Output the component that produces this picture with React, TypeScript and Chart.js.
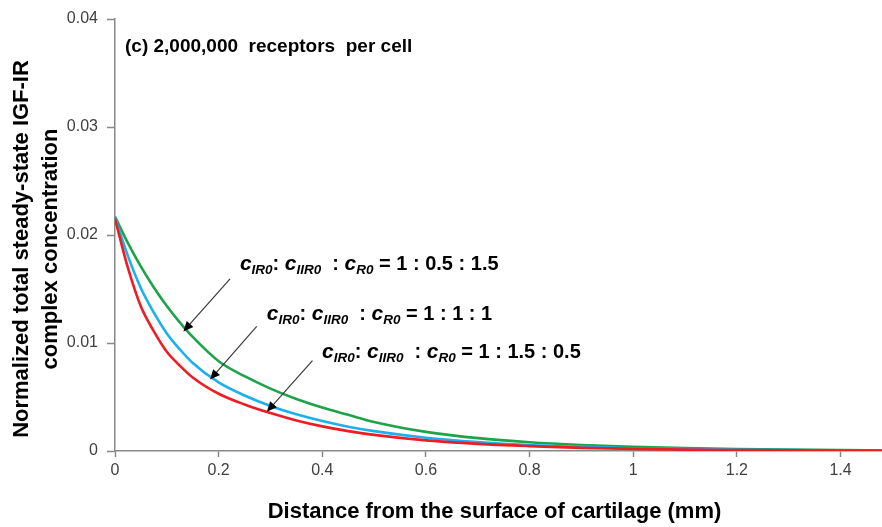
import React, { useEffect, useRef } from 'react';
import { Chart, registerables } from 'chart.js';

Chart.register(...registerables);

// ---- data ----
const distanceMm = [0, 0.025, 0.05, 0.075, 0.1, 0.125, 0.15, 0.2, 0.25, 0.3, 0.35, 0.4, 0.45, 0.5, 0.6, 0.7, 0.8, 0.9, 1.0, 1.1, 1.2, 1.3, 1.4, 1.48];
const ratio_1_05_15 = [0.0217, 0.01925, 0.01707, 0.01514, 0.01342, 0.01191, 0.01056, 0.00831, 0.00693, 0.00578, 0.00482, 0.00402, 0.00335, 0.00269, 0.00177, 0.00119, 0.00081, 0.00056, 0.00039, 0.00027, 0.00019, 0.00013, 0.00009, 0.00007];
const ratio_1_1_1 = [0.0216, 0.01804, 0.01507, 0.01281, 0.01089, 0.00942, 0.00815, 0.00635, 0.00514, 0.00417, 0.0034, 0.00277, 0.00225, 0.00184, 0.00123, 0.00083, 0.00055, 0.00038, 0.00026, 0.00017, 0.00012, 0.00008, 0.00005, 0.00004];
const ratio_1_15_05 = [0.0215, 0.01695, 0.01337, 0.01108, 0.00919, 0.00791, 0.00681, 0.0053, 0.00431, 0.00351, 0.00283, 0.00228, 0.00184, 0.00149, 0.00098, 0.00066, 0.00045, 0.00029, 0.0002, 0.00013, 0.00009, 0.00006, 0.00004, 0.00003];

const xTitle = 'Distance from the surface of cartilage (mm)';
const yTitle = ['Normalized total steady-state IGF-IR', 'complex concentration'];
const panelTitle = '(c) 2,000,000  receptors  per cell';
const ratioLabels = [
  ['1', '0.5', '1.5'],
  ['1', '1', '1'],
  ['1', '1.5', '0.5'],
];

const FONT = '"Liberation Sans", Arial, Helvetica, sans-serif';

// annotation placement in data units (positions only)
const labelPos = [
  { x: 0.241, y: 0.01677 },
  { x: 0.293, y: 0.01215 },
  { x: 0.3996, y: 0.00864 },
];
const arrowPos = [
  { x1: 0.222, y1: 0.01594, x2: 0.132, y2: 0.01107 },
  { x1: 0.2735, y1: 0.01153, x2: 0.1834, y2: 0.00661 },
  { x1: 0.381, y1: 0.00837, x2: 0.293, y2: 0.00363 },
];

function drawRich(ctx: CanvasRenderingContext2D, px: number, py: number, parts: { t: string; f: string; dy?: number }[]) {
  let cx = px;
  for (const p of parts) {
    ctx.font = p.f;
    ctx.fillText(p.t, cx, py + (p.dy || 0));
    cx += ctx.measureText(p.t).width;
  }
}

function drawArrow(ctx: CanvasRenderingContext2D, x1: number, y1: number, x2: number, y2: number) {
  const ang = Math.atan2(y2 - y1, x2 - x1);
  const head = 10;
  const hw = 4.5;
  ctx.strokeStyle = '#3a3a3a';
  ctx.lineWidth = 1.2;
  ctx.beginPath();
  ctx.moveTo(x1, y1);
  ctx.lineTo(x2 - Math.cos(ang) * head * 0.8, y2 - Math.sin(ang) * head * 0.8);
  ctx.stroke();
  ctx.fillStyle = '#000';
  ctx.beginPath();
  ctx.moveTo(x2, y2);
  const bx = x2 - Math.cos(ang) * head;
  const by = y2 - Math.sin(ang) * head;
  ctx.lineTo(bx + Math.sin(ang) * hw, by - Math.cos(ang) * hw);
  ctx.lineTo(bx - Math.sin(ang) * hw, by + Math.cos(ang) * hw);
  ctx.closePath();
  ctx.fill();
}

const annotationPlugin = {
  id: 'annotations',
  afterDraw(chart: any) {
    const { ctx, scales } = chart;
    const xs = scales.x;
    const ys = scales.y;
    ctx.save();
    ctx.fillStyle = '#000';
    ctx.textBaseline = 'alphabetic';
    ctx.textAlign = 'left';

    // panel title
    ctx.font = `bold 19px ${FONT}`;
    ctx.fillText(panelTitle, 125, 52);

    // ratio labels
    const cF = `italic bold 21px ${FONT}`;
    const sF = `italic bold 13.5px ${FONT}`;
    const mF = `bold 20px ${FONT}`;
    ratioLabels.forEach((r, i) => {
      const px = xs.getPixelForValue(labelPos[i].x);
      const py = ys.getPixelForValue(labelPos[i].y);
      ctx.fillStyle = '#000';
      drawRich(ctx, px, py, [
        { t: 'c', f: cF },
        { t: 'IR0', f: sF, dy: 4 },
        { t: ': ', f: mF },
        { t: 'c', f: cF },
        { t: 'IIR0', f: sF, dy: 4 },
        { t: '  : ', f: mF },
        { t: 'c', f: cF },
        { t: 'R0', f: sF, dy: 4 },
        { t: ' = ' + r[0] + ' : ' + r[1] + ' : ' + r[2], f: mF },
      ]);
    });

    arrowPos.forEach((a) => {
      drawArrow(
        ctx,
        xs.getPixelForValue(a.x1),
        ys.getPixelForValue(a.y1),
        xs.getPixelForValue(a.x2),
        ys.getPixelForValue(a.y2)
      );
    });

    // axis titles
    ctx.fillStyle = '#000';
    ctx.font = `bold 22px ${FONT}`;
    ctx.textAlign = 'center';
    ctx.textBaseline = 'middle';
    ctx.fillText(xTitle, (xs.left + xs.right) / 2 - 4, 512);

    ctx.save();
    ctx.translate(0, 249);
    ctx.rotate(-Math.PI / 2);
    ctx.fillText(yTitle[0], 0, 22);
    ctx.fillText(yTitle[1], 0, 51);
    ctx.restore();

    ctx.restore();
  },
};

export default function App() {
  const ref = useRef<HTMLCanvasElement | null>(null);

  useEffect(() => {
    document.body.style.margin = '0';
    const canvas = ref.current;
    if (!canvas) return;
    const mk = (vals: number[]) => distanceMm.map((d, i) => ({ x: d, y: vals[i] }));
    const common = {
      pointRadius: 0,
      borderWidth: 2.6,
      fill: false,
      cubicInterpolationMode: 'monotone' as const,
    };
    const chart = new Chart(canvas, {
      type: 'line',
      data: {
        datasets: [
          { label: 'cIR0 : cIIR0 : cR0 = 1 : 1.5 : 0.5', data: mk(ratio_1_15_05), borderColor: '#ee1c24', ...common },
          { label: 'cIR0 : cIIR0 : cR0 = 1 : 1 : 1', data: mk(ratio_1_1_1), borderColor: '#1cb0ec', ...common },
          { label: 'cIR0 : cIIR0 : cR0 = 1 : 0.5 : 1.5', data: mk(ratio_1_05_15), borderColor: '#1fa34a', ...common },
        ],
      },
      options: {
        responsive: false,
        animation: false,
        layout: { padding: { left: 0, right: 0, top: 19, bottom: 0 } },
        plugins: { legend: { display: false }, tooltip: { enabled: false } },
        scales: {
          x: {
            type: 'linear',
            min: 0,
            max: 1.48,
            border: { color: '#888', width: 1.5 },
            grid: { drawOnChartArea: false, drawTicks: true, tickLength: 6, color: '#888', tickWidth: 1.5 },
            ticks: {
              stepSize: 0.2,
              includeBounds: false,
              padding: 4,
              color: '#404040',
              font: { family: FONT, size: 16 },
              maxRotation: 0,
              callback: (v: any) => String(Math.round(Number(v) * 10) / 10),
            },
            afterFit: (s: any) => {
              s.height = 76;
            },
          },
          y: {
            type: 'linear',
            min: 0,
            max: 0.04,
            border: { color: '#888', width: 1.5 },
            grid: { drawOnChartArea: false, drawTicks: true, tickLength: 8, color: '#888', tickWidth: 1.5 },
            ticks: {
              stepSize: 0.01,
              padding: 9,
              color: '#404040',
              font: { family: FONT, size: 16 },
              callback: (v: any) => (Number(v) === 0 ? '0' : Number(v).toFixed(2)),
            },
            afterFit: (s: any) => {
              s.width = 115;
            },
          },
        },
      },
      plugins: [annotationPlugin],
    });
    return () => chart.destroy();
  }, []);

  return (
    <div style={{ position: 'fixed', left: 0, top: 0, width: 882, height: 527, background: '#fff' }}>
      <canvas ref={ref} width={882} height={527} />
    </div>
  );
}
